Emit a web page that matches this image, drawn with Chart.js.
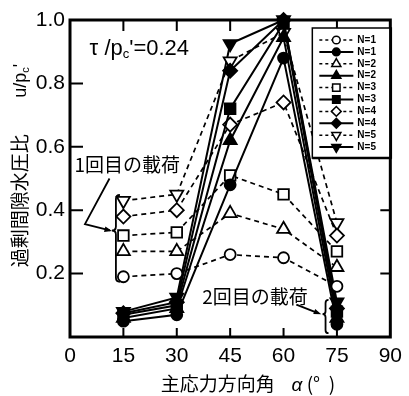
<!DOCTYPE html>
<html>
<head>
<meta charset="utf-8">
<script src="https://cdn.jsdelivr.net/npm/chart.js@4.4.0/dist/chart.umd.min.js"></script>
<style>
  html, body { margin: 0; padding: 0; background: #fff; }
</style>
</head>
<body>
<canvas id="chart" width="409" height="396"></canvas>
<script>
// principal stress direction angle (deg)
const angles = [15, 30, 45, 60, 75];
const xTicks = [0, 15, 30, 45, 60, 75, 90];
const yTicks = [0.2, 0.4, 0.6, 0.8, 1.0];

// open markers, dashed lines (first loading)
const open1 = [0.19, 0.20, 0.26, 0.25, 0.16];
const open2 = [0.27, 0.27, 0.39, 0.34, 0.22];
const open3 = [0.32, 0.33, 0.51, 0.45, 0.27];
const open4 = [0.38, 0.40, 0.67, 0.74, 0.32];
const open5 = [0.43, 0.45, 0.87, 0.96, 0.36];

// filled markers, solid lines (second loading)
const filled1 = [0.05, 0.07, 0.48, 0.88, 0.04];
const filled2 = [0.06, 0.09, 0.62, 0.945, 0.06];
const filled3 = [0.07, 0.10, 0.72, 0.99, 0.08];
const filled4 = [0.075, 0.11, 0.84, 1.0, 0.09];
const filled5 = [0.08, 0.125, 0.925, 1.0, 0.11];

const series = [
  { label: 'N=1', values: open1, style: 'circle', rot: 0, r: 5.5, open: true },
  { label: 'N=1', values: filled1, style: 'circle', rot: 0, r: 5.5, open: false },
  { label: 'N=2', values: open2, style: 'triangle', rot: 0, r: 7.5, open: true },
  { label: 'N=2', values: filled2, style: 'triangle', rot: 0, r: 7.5, open: false },
  { label: 'N=3', values: open3, style: 'rect', rot: 0, r: 7.5, open: true },
  { label: 'N=3', values: filled3, style: 'rect', rot: 0, r: 7.5, open: false },
  { label: 'N=4', values: open4, style: 'rectRot', rot: 0, r: 7, open: true },
  { label: 'N=4', values: filled4, style: 'rectRot', rot: 0, r: 7, open: false },
  { label: 'N=5', values: open5, style: 'triangle', rot: 180, r: 7.5, open: true },
  { label: 'N=5', values: filled5, style: 'triangle', rot: 180, r: 7.5, open: false }
];

const FONT = "'Liberation Sans', Arial, sans-serif";
const JFONT = "'Noto Sans CJK JP', sans-serif";

const datasets = series.map(s => ({
  label: s.label,
  data: angles.map((a, i) => ({ x: a, y: s.values[i] })),
  borderColor: '#000',
  borderWidth: s.open ? 1.7 : 2,
  borderDash: s.open ? [5, 4] : [],
  pointStyle: s.style,
  rotation: s.rot,
  pointRadius: s.r,
  pointBackgroundColor: s.open ? '#fff' : '#000',
  pointBorderColor: '#000',
  pointBorderWidth: 1.8,
  tension: 0,
  fill: false,
  clip: false
}));

function brace(ctx, x, y1, y2, ym, w) {
  ctx.beginPath();
  ctx.moveTo(x + w, y1);
  ctx.quadraticCurveTo(x, y1, x, y1 + w);
  ctx.lineTo(x, ym - w);
  ctx.quadraticCurveTo(x, ym, x - w, ym);
  ctx.quadraticCurveTo(x, ym, x, ym + w);
  ctx.lineTo(x, y2 - w);
  ctx.quadraticCurveTo(x, y2, x + w, y2);
  ctx.stroke();
}

function arrowHead(ctx, x0, y0, x1, y1, len) {
  const a = Math.atan2(y1 - y0, x1 - x0);
  ctx.beginPath();
  ctx.moveTo(x1, y1);
  ctx.lineTo(x1 - len * Math.cos(a - 0.35), y1 - len * Math.sin(a - 0.35));
  ctx.lineTo(x1 - len * Math.cos(a + 0.35), y1 - len * Math.sin(a + 0.35));
  ctx.closePath();
  ctx.fill();
}

const framePlugin = {
  id: 'frame',
  beforeDatasetsDraw(chart) {
    const { ctx, chartArea: a, scales } = chart;
    ctx.save();
    ctx.strokeStyle = '#000';
    ctx.lineWidth = 3;
    ctx.strokeRect(a.left, a.top, a.right - a.left, a.bottom - a.top);
    ctx.lineWidth = 2;
    ctx.beginPath();
    xTicks.slice(1, -1).forEach(v => {
      const x = scales.x.getPixelForValue(v);
      ctx.moveTo(x, a.bottom); ctx.lineTo(x, a.bottom - 9);
      ctx.moveTo(x, a.top); ctx.lineTo(x, a.top + 11);
    });
    yTicks.slice(0, -1).forEach(v => {
      const y = scales.y.getPixelForValue(v);
      ctx.moveTo(a.left, y); ctx.lineTo(a.left + 13, y);
      ctx.moveTo(a.right, y); ctx.lineTo(a.right - 10, y);
    });
    ctx.stroke();
    ctx.restore();
  },
  afterDraw(chart) {
    const { ctx, chartArea: a, scales } = chart;
    const px = v => scales.x.getPixelForValue(v);
    const py = v => scales.y.getPixelForValue(v);
    ctx.save();
    ctx.fillStyle = '#000';
    ctx.strokeStyle = '#000';

    // condition label
    let x = px(5.5), y = py(0.89);
    ctx.textBaseline = 'alphabetic';
    ctx.textAlign = 'left';
    ctx.font = '22px ' + FONT;
    ctx.fillText('τ /p', x, y);
    x += ctx.measureText('τ /p').width;
    ctx.font = '13px ' + FONT;
    ctx.fillText('c', x, y + 3);
    x += ctx.measureText('c').width;
    ctx.font = '22px ' + FONT;
    ctx.fillText("'=0.24", x, y);

    // first loading annotation
    ctx.font = '19px ' + JFONT;
    ctx.textAlign = 'center';
    ctx.textBaseline = 'middle';
    ctx.fillText('1回目の載荷', px(16.1), py(0.543));
    ctx.lineWidth = 1.8;
    ctx.beginPath();
    ctx.moveTo(px(11.1), py(0.50));
    ctx.lineTo(px(4.2), py(0.356));
    ctx.lineTo(px(11.2), py(0.336));
    ctx.stroke();
    arrowHead(ctx, px(4.2), py(0.356), px(11.8), py(0.334), 8);
    brace(ctx, px(12.9), py(0.448), py(0.174), py(0.336), 4);

    // second loading annotation
    ctx.fillText('2回目の載荷', px(52.0), py(0.126));
    ctx.beginPath();
    ctx.moveTo(px(63.6), py(0.102));
    ctx.lineTo(px(69.5), py(0.076));
    ctx.stroke();
    arrowHead(ctx, px(63.6), py(0.102), px(70.6), py(0.072), 8);
    brace(ctx, px(71.8), py(0.117), py(0.012), py(0.072), 3);

    // y axis title (rotated)
    ctx.save();
    ctx.translate(20, py(0.43));
    ctx.rotate(-Math.PI / 2);
    ctx.font = '19px ' + JFONT;
    ctx.textAlign = 'center';
    ctx.textBaseline = 'middle';
    ctx.fillText('過剰間隙水圧比', 0, 0);
    ctx.restore();
    ctx.save();
    ctx.translate(26, py(0.755));
    ctx.rotate(-Math.PI / 2);
    ctx.textAlign = 'left';
    ctx.textBaseline = 'alphabetic';
    ctx.font = '18px ' + FONT;
    ctx.fillText('u/p', 0, 0);
    let w = ctx.measureText('u/p').width;
    ctx.font = '11px ' + FONT;
    ctx.fillText('c', w, 3);
    w += ctx.measureText('c').width;
    ctx.font = '18px ' + FONT;
    ctx.fillText("'", w, 0);
    ctx.restore();

    // x axis title
    ctx.textAlign = 'left';
    ctx.textBaseline = 'middle';
    ctx.font = '19px ' + JFONT;
    const ty = a.bottom + 47;
    ctx.fillText('主応力方向角', px(25.5), ty);
    ctx.font = 'italic 19px ' + FONT;
    ctx.fillText('α', px(62.2), ty + 2);
    ctx.font = '19px ' + JFONT;
    ctx.fillText('(°  )', px(66.5), ty);

    // legend
    const lx = a.right - 78, lt = a.top + 8, lw = 79, lh = 130;
    ctx.fillStyle = '#fff';
    ctx.fillRect(lx, lt, lw, lh);
    ctx.fillStyle = '#000';
    ctx.lineWidth = 1.5;
    ctx.strokeRect(lx, lt, lw, lh);
    ctx.lineWidth = 2.5;
    ctx.beginPath();
    ctx.moveTo(lx + lw - 1, lt); ctx.lineTo(lx + lw - 1, lt + lh);
    ctx.lineTo(lx, lt + lh);
    ctx.stroke();
    series.forEach((s, i) => {
      const cy = lt + 12 + i * 11.9;
      ctx.lineWidth = s.open ? 1.5 : 2;
      ctx.setLineDash(s.open ? [3, 3] : []);
      ctx.beginPath();
      ctx.moveTo(lx + 7, cy); ctx.lineTo(lx + 41, cy);
      ctx.stroke();
      ctx.setLineDash([]);
      ctx.fillStyle = s.open ? '#fff' : '#000';
      ctx.lineWidth = 1.5;
      Chart.helpers.drawPoint(ctx, {
        pointStyle: s.style, rotation: s.rot, radius: s.r * 0.7, borderWidth: 1.5
      }, lx + 24, cy);
      ctx.fillStyle = '#000';
      ctx.font = 'bold 10px ' + FONT;
      ctx.textAlign = 'left';
      ctx.textBaseline = 'middle';
      ctx.fillText(s.label, lx + 45, cy);
    });
    ctx.restore();
  }
};

new Chart(document.getElementById('chart'), {
  type: 'line',
  data: { datasets },
  options: {
    responsive: false,
    animation: false,
    layout: { padding: { top: 20, right: 15, left: 0, bottom: 0 } },
    plugins: { legend: { display: false }, tooltip: { enabled: false } },
    scales: {
      x: {
        type: 'linear',
        min: 0,
        max: 90,
        afterBuildTicks: s => { s.ticks = xTicks.map(v => ({ value: v })); },
        afterFit: s => { s.height = 59; },
        grid: { display: false, drawTicks: false },
        border: { display: false },
        ticks: { color: '#000', font: { family: FONT, size: 21 }, padding: 7, maxRotation: 0 }
      },
      y: {
        min: 0,
        max: 1.0,
        afterBuildTicks: s => { s.ticks = yTicks.map(v => ({ value: v })); },
        afterFit: s => { s.width = 70; },
        grid: { display: false, drawTicks: false },
        border: { display: false },
        ticks: {
          color: '#000',
          font: { family: FONT, size: 21 },
          padding: 5,
          callback: v => v.toFixed(1)
        }
      }
    }
  },
  plugins: [framePlugin]
});
</script>
</body>
</html>
